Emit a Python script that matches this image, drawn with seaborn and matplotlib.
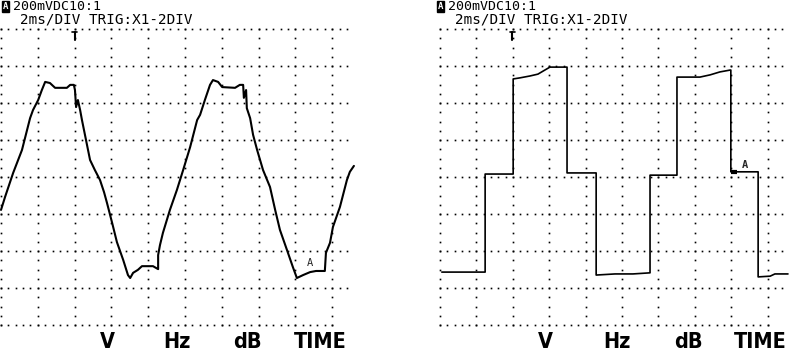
import numpy as np
import matplotlib
matplotlib.use("Agg")
import matplotlib.pyplot as plt
import seaborn as sns

sns.set_theme(style="white")
plt.rcParams["font.family"] = ["DejaVu Sans"]

# ---- data (time in divisions of 2 ms, voltage in divisions of 200 mV x10) ----
left_t = [0.00, 0.11, 0.33, 0.57, 0.79, 0.87, 1.01, 1.11, 1.20, 1.33, 1.47, 1.79, 1.88, 1.98,
          2.01, 2.04, 2.09, 2.15, 2.20, 2.31, 2.42, 2.55, 2.69, 2.80, 2.88, 3.02, 3.15, 3.32,
          3.45, 3.51, 3.59, 3.72, 3.83, 4.13, 4.27, 4.27, 4.32, 4.40, 4.59, 4.78, 4.95, 5.14,
          5.33, 5.41, 5.54, 5.68, 5.76, 5.90, 6.01, 6.36, 6.49, 6.58, 6.60, 6.66, 6.68, 6.77,
          6.85, 6.96, 7.12, 7.31, 7.45, 7.58, 7.77, 7.93, 8.04, 8.21, 8.40, 8.56, 8.80, 8.83,
          8.94, 9.02, 9.21, 9.40, 9.48, 9.59]
left_v = [-0.89, -0.54, 0.11, 0.73, 1.59, 1.81, 2.08, 2.35, 2.57, 2.54, 2.41, 2.41, 2.49, 2.49,
          2.35, 1.89, 2.08, 1.81, 1.54, 1.00, 0.46, 0.19, -0.08, -0.41, -0.70, -1.24, -1.76, -2.24,
          -2.65, -2.73, -2.59, -2.51, -2.41, -2.41, -2.49, -2.11, -1.84, -1.51, -0.89, -0.35, 0.19, 0.81,
          1.54, 1.68, 2.08, 2.49, 2.62, 2.57, 2.43, 2.41, 2.49, 2.49, 2.14, 2.35, 1.86, 1.59,
          1.14, 0.73, 0.19, -0.27, -0.89, -1.43, -1.97, -2.43, -2.73, -2.65, -2.57, -2.54, -2.54, -2.05,
          -1.78, -1.35, -0.81, -0.08, 0.14, 0.30]

right_t = [0.05, 1.24, 1.24, 2.01, 2.01, 2.20, 2.47, 2.69, 2.88, 3.02, 3.49, 3.49, 4.29, 4.29,
           4.81, 5.30, 5.77, 5.77, 6.51, 6.51, 7.14, 7.42, 7.69, 7.97, 7.99, 7.99, 8.74, 8.74,
           9.07, 9.20, 9.56]
right_v = [-2.57, -2.57, 0.08, 0.08, 2.65, 2.68, 2.73, 2.78, 2.89, 2.97, 2.97, 0.11, 0.11, -2.65,
           -2.62, -2.62, -2.59, 0.05, 0.05, 2.70, 2.70, 2.76, 2.84, 2.89, 2.89, 0.14, 0.14, -2.70,
           -2.68, -2.62, -2.62]

header_1 = "200mVDC10:1"
header_2 = "2ms/DIV TRIG:X1-2DIV"
soft_keys = ["V", "Hz", "dB", "TIME"]
trigger_div = 2.0
cursor_label = "A"

# ---- layout ----
W, H = 789, 351
fig = plt.figure(figsize=(W / 100, H / 100), dpi=100)
fig.patch.set_facecolor("white")

CENTER_Y, DIV_Y = 177, 37
TOP_PX, BOT_PX = 22, 332


def add_panel(px0, px1, grid_x0, div_px):
    ax = fig.add_axes([px0 / W, (H - BOT_PX) / H, (px1 - px0) / W, (BOT_PX - TOP_PX) / H])
    ax.set_xlim((px0 - grid_x0) / div_px, (px1 - grid_x0) / div_px)
    ax.set_ylim((CENTER_Y - BOT_PX) / DIV_Y, (CENTER_Y - TOP_PX) / DIV_Y)
    ax.set_axis_off()
    return ax


def draw_grid(ax, h_end, bottom_end):
    dot = dict(ls="none", marker="s", ms=1.2, mew=0, color="black")
    for k in range(-4, 5):
        end = bottom_end if k == -4 else h_end
        xs = np.arange(0, end + 1e-6, 0.2)
        ax.plot(xs, np.full_like(xs, k), **dot)
    ys = np.arange(-4, 4.0001, 0.25)
    for j in range(0, 10):
        ax.plot(np.full_like(ys, j), ys, **dot)


def draw_trigger(ax, x):
    ax.plot([x - 0.07, x + 0.07], [3.93, 3.93], color="black", lw=1.2)
    ax.plot([x, x], [3.93, 3.70], color="black", lw=1.5)


axL = add_panel(0, 358, 1, 36.8)
axR = add_panel(436, 789, 440, 36.4)

draw_grid(axL, 9.55, 9.0)
draw_grid(axR, 9.48, 9.1)
draw_trigger(axL, trigger_div)
draw_trigger(axR, trigger_div - 0.02)

sns.lineplot(x=left_t, y=left_v, sort=False, estimator=None, ax=axL,
             color="black", linewidth=1.5)
sns.lineplot(x=right_t, y=right_v, sort=False, estimator=None, ax=axR,
             color="black", linewidth=1.2)
axL.set_axis_off()
axR.set_axis_off()

axL.text(8.40, -2.32, cursor_label, fontsize=7.5, ha="center", va="center",
         family="DejaVu Sans Mono")
axR.plot(right_t[24:26][:1] * 2 + np.array([0.0, 0.17]), [right_v[25]] * 2,
         color="black", lw=3, solid_capstyle="butt")
axR.text(8.38, 0.33, cursor_label, fontsize=7.5, ha="center", va="center",
         family="DejaVu Sans Mono", weight="bold")

# ---- header texts ----
for off in (0, 435):
    fig.text((3 + off) / W, 1 - 2 / H, "A", color="white", fontsize=6.5, va="top", ha="left",
             family="DejaVu Sans Mono", weight="bold",
             bbox=dict(boxstyle="square,pad=0.12", fc="black", ec="black"))
    fig.text((13 + off) / W, 1 - 0.5 / H, header_1, fontsize=9.5, va="top", ha="left",
             family="DejaVu Sans Mono", color="black")
    fig.text((20 + off) / W, 1 - 12.5 / H, header_2, fontsize=10.3, va="top", ha="left",
             family="DejaVu Sans Mono", color="black")

# ---- soft key labels ----
key_x = [[107, 177, 247, 320], [545, 617, 688, 760]]
for xs in key_x:
    for x, lab in zip(xs, soft_keys):
        fig.text(x / W, 1 - 342 / H, lab, fontsize=15.5, ha="center", va="center",
                 weight="bold", fontstretch="condensed", color="black")

fig.savefig("out.png", dpi=100, facecolor="white")
